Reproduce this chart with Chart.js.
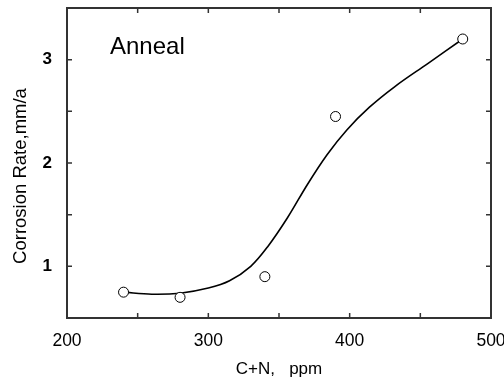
<!DOCTYPE html>
<html>
<head>
<meta charset="utf-8">
<script src="https://cdn.jsdelivr.net/npm/chart.js@4"></script>
<style>
  html, body { margin: 0; padding: 0; background: #fff; }
  #box { width: 504px; height: 381px; }
</style>
</head>
<body>
<div id="box"><canvas id="plotGraph"></canvas></div>
<script>
// 測定点
const ppm = [240, 280, 340, 390, 480]
const rate = [0.75, 0.70, 0.90, 2.45, 3.20]

// フィット曲線
const fitPpm = [240, 260, 280, 300, 315, 330, 342, 356, 370, 384, 398, 414, 432, 455, 480]
const fitRate = [0.75, 0.73, 0.74, 0.79, 0.86, 1.00, 1.19, 1.47, 1.79, 2.08, 2.32, 2.54, 2.74, 2.96, 3.20]

// 目盛り
const xTicks = [200, 300, 400, 500]
const xMinor = [250, 350, 450]
const yTicks = [1, 2, 3]
const yMinor = [1.5, 2.5]

const FONT = "'Liberation Sans', Arial, sans-serif"

// 枠と内向きの目盛り、注記
const framePlugin = {
  id: "frame",
  afterDraw(chart) {
    const ctx = chart.ctx
    const a = chart.chartArea
    const xs = chart.scales.x
    const ys = chart.scales.y
    const len = 5
    ctx.save()
    ctx.strokeStyle = "#333"
    ctx.lineWidth = 1.5
    ctx.beginPath()
    for (const v of xTicks.concat(xMinor)) {
      const px = xs.getPixelForValue(v)
      ctx.moveTo(px, a.bottom); ctx.lineTo(px, a.bottom - len)
      ctx.moveTo(px, a.top); ctx.lineTo(px, a.top + len)
    }
    for (const v of yTicks.concat(yMinor)) {
      const py = ys.getPixelForValue(v)
      ctx.moveTo(a.left, py); ctx.lineTo(a.left + len, py)
      ctx.moveTo(a.right, py); ctx.lineTo(a.right - len, py)
    }
    ctx.stroke()
    ctx.lineWidth = 2
    ctx.strokeRect(a.left, a.top, a.right - a.left, a.bottom - a.top)

    ctx.fillStyle = "#000"
    ctx.font = "24px " + FONT
    ctx.textAlign = "left"
    ctx.textBaseline = "middle"
    ctx.fillText("Anneal", 110, 47)

    ctx.translate(21, 176)
    ctx.rotate(-Math.PI / 2)
    ctx.textAlign = "center"
    ctx.font = "18.5px " + FONT
    ctx.fillText("Corrosion Rate,mm/a", 0, 0)
    ctx.restore()
  }
}

function drawGraph() {
  let mainData = {
    datasets: [
      {
        label: "fit",
        data: fitPpm.map((x, i) => ({ x: x, y: fitRate[i] })),
        showLine: true,
        borderColor: "#000",
        borderWidth: 1.6,
        pointRadius: 0,
        tension: 0.35,
        order: 2
      }, {
        label: "Anneal",
        data: ppm.map((x, i) => ({ x: x, y: rate[i] })),
        showLine: false,
        pointRadius: 5,
        pointBorderWidth: 1,
        pointBackgroundColor: "#fff",
        pointBorderColor: "#000",
        order: 1
      }
    ]
  }

  let mainOptions = {
    responsive: true,
    maintainAspectRatio: false,
    animation: false,
    layout: { padding: { top: 8, right: 13, left: 0, bottom: 0 } },
    plugins: {
      legend: { display: false },
      tooltip: { enabled: false }
    },
    scales: {
      x: {
        type: "linear",
        min: 200,
        max: 500,
        grid: { display: false, drawTicks: false },
        border: { display: false },
        afterBuildTicks: s => { s.ticks = xTicks.map(v => ({ value: v })) },
        afterFit: s => { s.height = 63; s.paddingLeft = 0; s.paddingRight = 0 },
        ticks: {
          padding: 13,
          maxRotation: 0,
          color: "#000",
          font: { family: FONT, size: 17.5 }
        },
        title: {
          display: true,
          text: "C+N,   ppm",
          color: "#000",
          padding: { top: 0, bottom: 1 },
          font: { family: FONT, size: 17 }
        }
      },
      y: {
        type: "linear",
        min: 0.5,
        max: 3.5,
        grid: { display: false, drawTicks: false },
        border: { display: false },
        afterBuildTicks: s => { s.ticks = yTicks.map(v => ({ value: v })) },
        afterFit: s => { s.width = 67; s.paddingTop = 0; s.paddingBottom = 0 },
        ticks: {
          padding: 15,
          color: "#000",
          font: { family: FONT, size: 17, weight: "bold" }
        }
      }
    }
  }

  new Chart(document.getElementById("plotGraph"), {
    type: "scatter",
    data: mainData,
    options: mainOptions,
    plugins: [framePlugin]
  })
}

drawGraph()
</script>
</body>
</html>
